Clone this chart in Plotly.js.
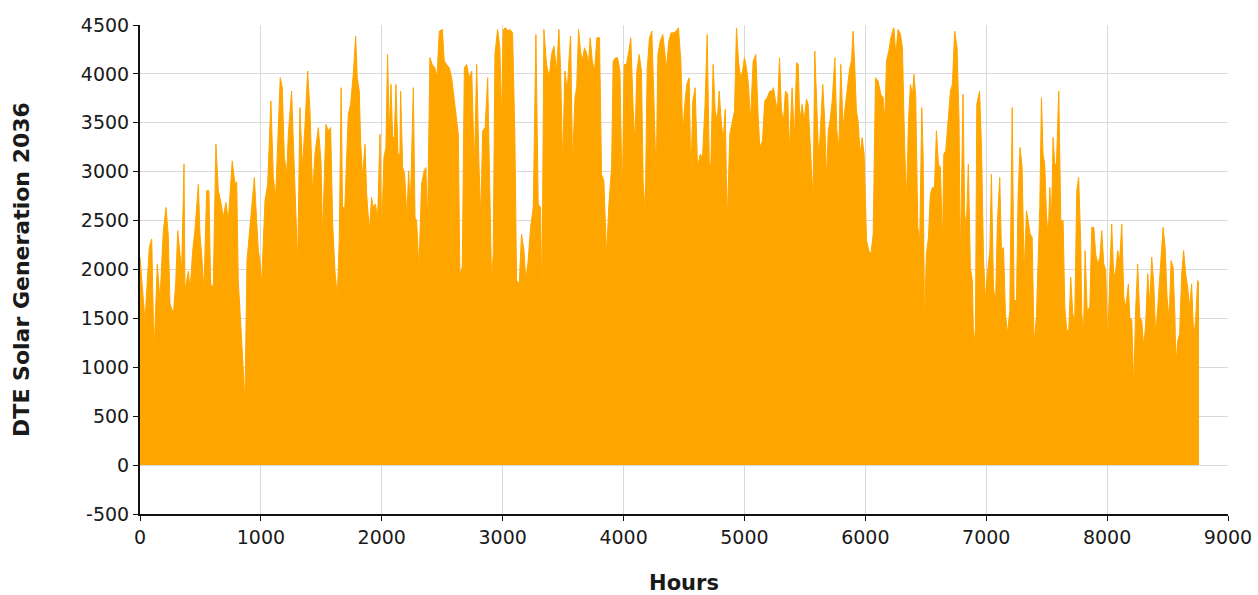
<!DOCTYPE html>
<html>
<head>
<meta charset="utf-8">
<script src="https://cdn.plot.ly/plotly-3.0.1.min.js"></script>
<style>html,body{margin:0;padding:0;background:#fff;}#chart{width:1258px;height:595px;}</style>
</head>
<body>
<div id="chart"></div>
<script>
// Envelope of hourly DTE solar generation: hour and MW
const hours = [0,22,41,77,97,116,143,165,193,215,234,248,276,295,312,331,345,364,372,400,414,436,455,483,496,510,529,551,570,584,606,628,648,667,689,
711,730,763,785,800,813,841,868,885,910,946,965,979,992,1006,1034,1056,1083,1103,1122,1144,1160,1177,1194,1213,1227,1254,1274,1304,1323,1343,1364,1387,1406,1428,1447,1475,
1497,1510,1538,1558,1577,1594,1613,1632,1648,1664,1675,1694,1723,1742,1764,1784,1797,1814,1825,1841,1861,1875,1897,1916,1930,1947,1966,1985,1999,2018,2034,2048,2062,2076,2090,2104,2117,2134,2150,2156,2173,2189,2208,2222,2236,2261,2275,
2288,2307,2329,2351,2365,2379,2398,2417,2439,2456,2476,2501,2517,2536,2558,2578,2605,2633,2646,2666,2683,2702,2722,2744,2766,2785,2804,2818,2835,2855,2876,2908,2922,2936,2958,2977,2991,3004,3024,3043,
3060,3082,3101,3115,3137,3156,3176,3192,3211,3231,3253,3275,3294,3313,3325,3341,3363,3385,3404,3424,3446,3465,3479,3495,3515,3534,3551,3562,3578,3598,3612,3628,3644,3658,3677,3697,3710,3724,3741,3760,3779,3801,3818,3837,
3859,3879,3901,3914,3934,3950,3970,3989,4005,4025,4044,4060,4079,4093,4110,4129,4148,4162,4179,4195,4214,4234,4250,4270,4284,4303,4325,4344,4355,4374,4394,4416,4435,4454,4474,4490,4504,4523,4543,4557,4573,4592,4612,4634,
4653,4673,4692,4709,4722,4741,4758,4775,4791,4808,4824,4841,4857,4879,4901,4918,4934,4951,4968,4984,5000,5017,5033,5050,5072,5094,5113,5127,5149,5168,5188,5210,5229,5240,5257,5273,5290,5306,5323,5339,5358,5372,5394,5413,
5431,5445,5458,5477,5494,5513,5527,5549,5568,5582,5599,5615,5632,5648,5664,5679,5693,5707,5726,5748,5764,5781,5797,5816,5830,5852,5871,5885,5899,5913,5926,5940,5957,5974,5990,6010,6029,6046,6065,6084,6106,6128,6147,6161,6175,6194,
6211,6230,6236,6252,6271,6291,6307,6324,6340,6357,6373,6390,6403,6417,6434,6450,6467,6478,6489,6505,6522,6538,6555,6572,6588,6605,6621,6638,6649,6665,6684,6704,6720,6739,6759,6775,6786,6808,6822,6836,6852,6869,6885,6897,6911,6922,6945,6961,6978,6994,
7005,7030,7043,7060,7077,7093,7112,7126,7143,7159,7176,7195,7215,7231,7250,7264,7280,7297,7314,7333,7347,7363,7380,7396,7415,7429,7443,7457,7470,7484,7498,7512,7526,7540,7553,7567,7581,7600,7617,7636,7650,7666,7683,7699,7716,7732,7749,7765,7782,
7790,7805,7818,7835,7857,7873,7890,7906,7923,7940,7956,7972,7989,8005,8022,8038,8055,8071,8088,8104,8121,8138,8154,8176,8187,8204,8220,8237,8253,8270,8286,8303,8319,8336,8353,8369,8386,8402,8419,8435,8452,8463,8480,8496,8513,8529,8546,8562,8568,8584,8600,8617,8633,8650,8666,8683,8699,8716,8732,8749,8760];
const generationMW = [2125,1785,1480,2227,2312,1140,2057,1683,2397,2635,2346,1649,1547,1853,2397,2153,2017,3077,1785,1983,1785,2193,2414,2873,2363,2153,1785,2805,2805,1853,1819,3281,2805,2703,2533,
2686,2499,3111,2873,2900,1887,1275,646,2091,2465,2941,2499,2193,2091,1853,2703,2873,3723,2941,2737,3519,3961,3859,3145,2975,3383,3825,3179,2057,3655,3043,3451,4029,3621,2771,3179,3451,
3111,2329,3485,3417,3451,2465,1983,1717,2295,3859,2635,2635,3587,3689,3995,4386,3961,3825,3315,2941,3281,2771,2397,2737,2635,2669,2533,3383,2363,3145,3247,4199,3417,3893,3349,3349,3893,3179,3179,3825,3043,2975,2533,3009,2635,3859,2533,
2499,2006,2873,3009,3043,2465,4165,4097,4063,3961,4437,4454,4131,4097,4063,3961,3655,3383,1955,2023,4063,4097,3961,4029,3043,4097,3077,2533,3417,3451,3961,1887,2153,4199,4454,4267,3519,4454,4471,4437,
4454,4420,3349,1887,1853,2363,2193,1887,2091,2431,2635,4403,2669,2635,1683,4454,4097,3961,4199,4284,4029,4454,4063,3077,4029,3825,4199,4386,3077,3757,3859,4454,4233,4131,4267,4199,4097,4369,4131,4029,4369,4369,2975,2907,
2153,2669,3043,4131,4165,4165,4029,2703,4097,4097,4233,4369,3655,3281,4029,4199,4029,2907,2567,4029,4369,4437,3791,2907,4199,4335,4403,4199,4063,4335,4420,4420,4437,4471,4131,3349,3655,3893,3961,2907,3723,3859,3043,3179,
3145,3655,4403,3077,3077,4097,3621,3519,3825,3519,3315,3638,2465,3383,3519,3621,4471,4131,3961,4029,4165,4063,3893,3519,4131,4199,3587,3247,3315,3723,3757,3825,3825,3859,3723,3621,4165,3621,3519,3825,3791,3213,3859,3315,
4114,4097,3519,3689,3519,3740,3689,3077,2703,4233,3553,3111,3519,3893,3519,2907,3417,3519,3723,4165,3417,3247,4097,3451,3621,3893,4063,4131,4437,4063,3621,3519,3179,3349,3179,2295,2193,2153,2363,3961,3927,3791,3757,3519,4131,4233,
4369,4454,4471,4199,4454,4403,4267,3315,2703,3519,3893,3791,3995,3757,2431,2295,3655,3179,1445,2153,2329,2771,2839,2839,3417,3077,3043,2227,3179,3213,3553,3825,3893,4437,4267,3519,2057,3791,2567,2431,3077,2023,1887,1173,1411,3689,3825,3247,2091,1683,
1900,2200,2975,1819,1649,2499,2941,2193,2227,1547,1343,1581,3655,1683,1683,2771,3247,3043,1955,2601,2499,2363,2329,1241,1513,2125,2635,3757,3179,3077,2567,2329,2839,2499,3349,3077,3077,3825,2499,2499,1615,1377,1377,1921,1547,1479,2805,2941,2261,
1547,1343,2193,1581,1615,2431,2431,2153,2057,2125,2397,2057,1989,1241,1955,2465,1921,1989,2193,2091,2465,1717,1615,1853,1513,1479,799,1615,2057,1513,1479,1207,1445,1955,1649,2125,1853,1309,1615,1887,2261,2431,2227,1717,1479,2091,2023,1479,1003,1275,1343,1955,2193,1955,1819,1615,1853,1309,1479,1887,1853];

const xTicks = [0,1000,2000,3000,4000,5000,6000,7000,8000,9000];
const yTicks = [-500,0,500,1000,1500,2000,2500,3000,3500,4000,4500];

const trace = {
  x: hours,
  y: generationMW,
  type: 'scatter',
  mode: 'lines',
  fill: 'tozeroy',
  fillcolor: '#FFA500',
  line: {color: '#FFA500', width: 1, shape: 'linear'},
  hoverinfo: 'x+y',
  showlegend: false
};

const FONT = 'DejaVu Sans, Verdana, sans-serif';
const tickFont = {family: FONT, size: 19, color: '#1a1a1a'};
const layout = {
  width: 1258, height: 595,
  margin: {l: 140, r: 30, t: 25, b: 81},
  paper_bgcolor: '#ffffff', plot_bgcolor: '#ffffff',
  showlegend: false,
  xaxis: {
    range: [0, 9000], tickvals: xTicks, ticktext: xTicks.map(String),
    showgrid: true, gridcolor: '#d9d9d9', gridwidth: 1,
    zeroline: false, showline: true, linecolor: '#111', linewidth: 2,
    ticks: 'outside', ticklen: 5, tickcolor: '#111', tickwidth: 1,
    tickfont: tickFont,
    title: {text: 'Hours', font: {family: FONT, size: 21, color: '#1a1a1a', weight: 'bold'}, standoff: 30}
  },
  yaxis: {
    range: [-500, 4500], tickvals: yTicks, ticktext: yTicks.map(String),
    showgrid: true, gridcolor: '#d9d9d9', gridwidth: 1,
    zeroline: false, showline: true, linecolor: '#111', linewidth: 2,
    ticks: 'outside', ticklen: 5, tickcolor: '#111', tickwidth: 1,
    tickfont: tickFont,
    title: {text: 'DTE Solar Generation 2036', font: {family: FONT, size: 22, color: '#1a1a1a', weight: 'bold'}, standoff: 45}
  }
};

Plotly.newPlot('chart', [trace], layout, {displayModeBar: false, staticPlot: true});
</script>
</body>
</html>
